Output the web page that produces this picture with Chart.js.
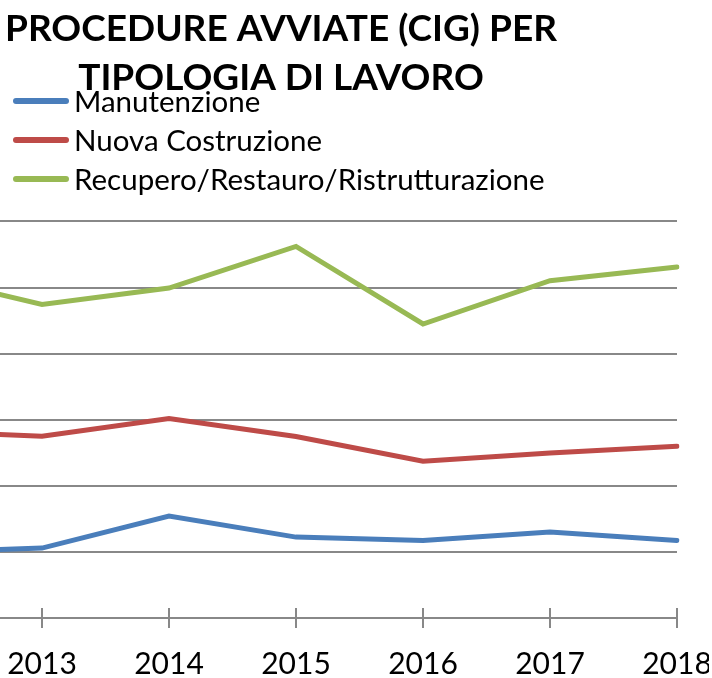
<!DOCTYPE html>
<html>
<head>
<meta charset="utf-8">
<script src="https://cdn.jsdelivr.net/npm/chart.js@4"></script>
<style>
	body { margin: 0; width: 712px; height: 678px; overflow: hidden; background: #fff; position: relative; font-family: Lato, sans-serif; }
	#wrap { position: absolute; left: -147px; top: 0; width: 856px; height: 702px; }
	#legend { position: absolute; left: 13px; top: 81px; margin: 0; padding: 0; list-style: none; }
	#legend li { height: 39px; display: flex; align-items: center; font-size: 29.5px; color: #000; white-space: nowrap; }
	#legend span { display: inline-block; width: 56px; height: 6px; border-radius: 3px; margin-right: 5px; }
</style>
</head>
<body>
<div id="wrap"><canvas id="chart"></canvas></div>
<ul id="legend"></ul>
<script>
const years = ['2012', '2013', '2014', '2015', '2016', '2017', '2018'];
const manutenzione = [990, 1058, 1541, 1224, 1174, 1300, 1174];
const nuovaCostruzione = [2828, 2750, 3018, 2745, 2373, 2498, 2599];
const recupero = [5199, 4745, 4992, 5622, 4448, 5104, 5309];
const yTicks = [0, 1000, 2000, 3000, 4000, 5000, 6000];

const series = [
	{ label: 'Manutenzione', data: manutenzione, color: '#4a7ebb' },
	{ label: 'Nuova Costruzione', data: nuovaCostruzione, color: '#be4b48' },
	{ label: 'Recupero/Restauro/Ristrutturazione', data: recupero, color: '#98b954' }
];

// legend drawn as html so it can sit under the title like the original
let legend = document.querySelector('#legend');
series.forEach((s) => {
	let li = document.createElement('li');
	li.innerHTML = `<span style="background:${s.color}"></span>${s.label}`;
	legend.appendChild(li);
});

// tick marks crossing the x axis line
const crossTicks = {
	id: 'crossTicks',
	afterDatasetsDraw(chart) {
		let x = chart.scales.x;
		let ctx = chart.ctx;
		ctx.save();
		ctx.strokeStyle = '#888';
		ctx.lineWidth = 2;
		x.ticks.forEach((t, i) => {
			let px = x.getPixelForTick(i);
			ctx.beginPath();
			ctx.moveTo(px, x.top - 10);
			ctx.lineTo(px, x.top + 10);
			ctx.stroke();
		});
		ctx.restore();
	}
};

const chart = new Chart(document.getElementById('chart'), {
	type: 'line',
	data: {
		labels: years,
		datasets: series.map((s) => ({
			label: s.label,
			data: s.data,
			borderColor: s.color,
			backgroundColor: s.color,
			borderWidth: 5,
			pointRadius: 0,
			tension: 0,
			borderCapStyle: 'round'
		}))
	},
	options: {
		responsive: true,
		maintainAspectRatio: false,
		animation: false,
		layout: {
			padding: 0
		},
		scales: {
			x: {
				offset: false,
				grid: { display: false },
				border: { display: true, color: '#888', width: 2 },
				afterFit: (scale) => {
					scale.paddingRight = 32;
				},
				ticks: {
					color: '#000',
					padding: 20,
					maxRotation: 0,
					font: { family: 'Lato', size: 30 }
				}
			},
			y: {
				min: 0,
				max: 6000,
				afterBuildTicks: (scale) => {
					scale.ticks = yTicks.map((v) => ({ value: v }));
				},
				afterFit: (scale) => {
					scale.width = 62;
				},
				border: { display: false },
				grid: { color: '#888', lineWidth: 2, drawTicks: false },
				ticks: { display: false }
			}
		},
		plugins: {
			legend: { display: false },
			tooltip: { enabled: false },
			title: {
				display: true,
				text: ['PROCEDURE AVVIATE (CIG) PER', 'TIPOLOGIA DI LAVORO'],
				color: '#000',
				font: { family: 'Lato', size: 37, weight: 'bold', lineHeight: 1.33 },
				padding: { top: 4, bottom: 119 }
			}
		}
	},
	plugins: [crossTicks]
});
</script>
</body>
</html>
